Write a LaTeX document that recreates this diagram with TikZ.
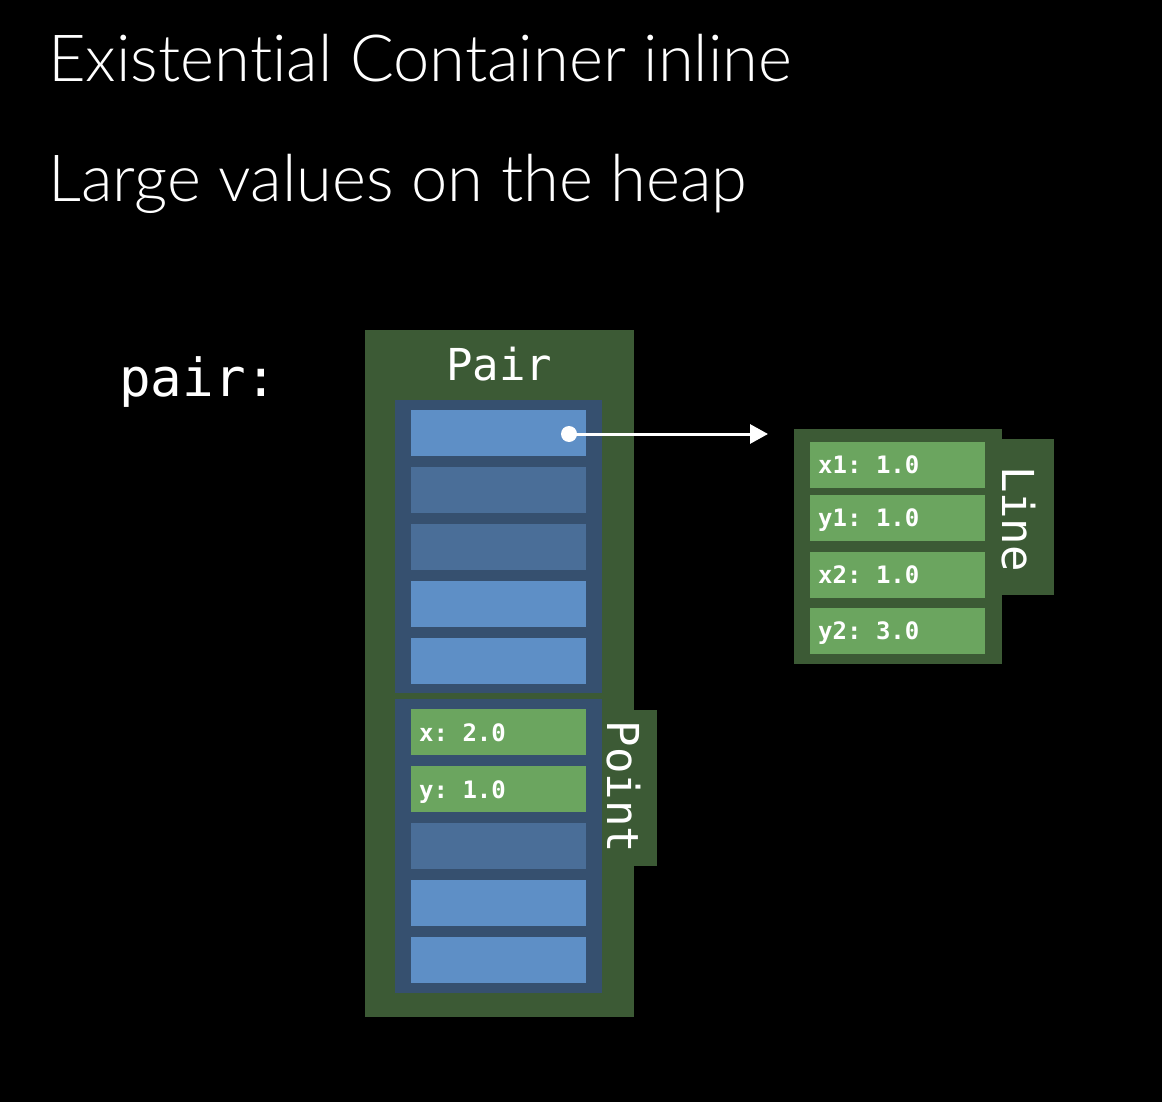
\documentclass[tikz,border=0pt]{standalone}
\usepackage{fontspec}
\setmonofont{DejaVu Sans Mono}
\newfontfamily\titlefont[Ligatures={NoCommon}]{Lato Light}
\usetikzlibrary{arrows.meta}
\definecolor{outergreen}{HTML}{3C5A35}
\definecolor{slotblue}{HTML}{36506F}
\definecolor{lightblue}{HTML}{5E8FC6}
\definecolor{darkblue}{HTML}{4A6E98}
\definecolor{cellgreen}{HTML}{6BA55F}
\begin{document}
\begin{tikzpicture}[x=1pt,y=-1pt,
  block/.style={draw=none, inner sep=0pt, outer sep=0pt, anchor=north west},
  cell/.style={block, minimum width=175pt, minimum height=46pt},
  lblue/.style={cell, fill=lightblue},
  dblue/.style={cell, fill=darkblue},
  gcell/.style={cell, fill=cellgreen},
  celltext/.style={anchor=base west, inner sep=0pt, text=white,
    font=\ttfamily\bfseries\fontsize{24}{24}\selectfont},
  typename/.style={inner sep=0pt, text=white,
    font=\ttfamily\fontsize{44}{44}\selectfont},
  title/.style={anchor=base west, inner sep=0pt, text=white,
    font=\titlefont\fontsize{65}{65}\selectfont}]
\fill[black] (0,0) rectangle (1162,1102);
\useasboundingbox (0,0) rectangle (1162,1102);

% headings
\node[title] (title1) at (48,82) {Existential Container inline};
\node[title] (title2) at (48,202) {Large values on the heap};

% variable name
\node[anchor=base west, inner sep=0pt, text=white,
  font=\ttfamily\fontsize{52.5}{52.5}\selectfont] (var) at (119,396) {pair:};

% Pair existential container
\node[block, fill=outergreen, minimum width=269pt, minimum height=687pt] (pair) at (365,330) {};
\node[block, fill=outergreen, minimum width=23pt, minimum height=156pt] (pointtab) at (634,710) {};
\node[typename, anchor=base] (pairlbl) at (499,380) {Pair};

% first field: value buffer
\node[block, fill=slotblue, minimum width=207pt, minimum height=293pt] (buf1) at (395,400) {};
\node[lblue] (a1) at (411,410) {};
\node[dblue] (a2) at (411,467) {};
\node[dblue] (a3) at (411,524) {};
\node[lblue] (a4) at (411,581) {};
\node[lblue] (a5) at (411,638) {};

% second field: inline Point
\node[block, fill=slotblue, minimum width=207pt, minimum height=294pt] (buf2) at (395,699) {};
\node[gcell] (b1) at (411,709) {};
\node[gcell] (b2) at (411,766) {};
\node[dblue] (b3) at (411,823) {};
\node[lblue] (b4) at (411,880) {};
\node[lblue] (b5) at (411,937) {};
\node[celltext] at (419,741) {x: 2.0};
\node[celltext] at (419,798) {y: 1.0};
\node[typename, rotate=-90] (pointlbl) at (624,787) {Point};

% heap-allocated Line
\node[block, fill=outergreen, minimum width=208pt, minimum height=235pt] (line) at (794,429) {};
\node[block, fill=outergreen, minimum width=52pt, minimum height=156pt] (linetab) at (1002,439) {};
\node[gcell] (c1) at (810,442) {};
\node[gcell] (c2) at (810,495) {};
\node[gcell] (c3) at (810,552) {};
\node[gcell] (c4) at (810,608) {};
\node[celltext] at (818,473) {x1: 1.0};
\node[celltext] at (818,526) {y1: 1.0};
\node[celltext] at (818,583) {x2: 1.0};
\node[celltext] at (818,639) {y2: 3.0};
\node[typename, rotate=-90] (linelbl) at (1019,519) {Line};

% pointer to the heap box
\node[circle, fill=white, minimum size=16pt, inner sep=0pt] (dot) at (569,434) {};
\coordinate (tip) at (768,434);
\draw[white, line width=3pt, -{Triangle[length=18pt,width=19pt]}] (dot.center) -- (tip);
\end{tikzpicture}
\end{document}
